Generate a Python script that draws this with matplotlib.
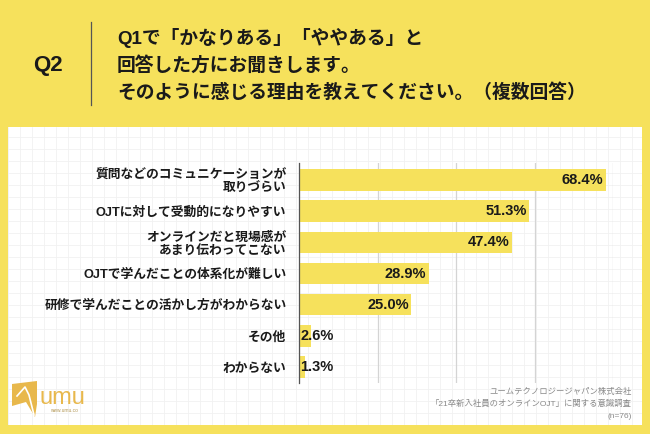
import matplotlib
matplotlib.use("Agg")
import matplotlib.pyplot as plt
import numpy as np
from matplotlib.patches import Polygon

plt.rcParams['font.family'] = ['Liberation Sans', 'Noto Sans CJK JP', 'DejaVu Sans']

# data
labels = ['質問などのコミュニケーションが\n取りづらい',
          'OJTに対して受動的になりやすい',
          'オンラインだと現場感が\nあまり伝わってこない',
          'OJTで学んだことの体系化が難しい',
          '研修で学んだことの活かし方がわからない',
          'その他',
          'わからない']
values = [68.4, 51.3, 47.4, 28.9, 25.0, 2.6, 1.3]
x_ticks = [0, 17.5, 35, 52.5, 70]

title_lines = ['Q1で「かなりある」「ややある」と',
               '回答した方にお聞きします。',
               'そのように感じる理由を教えてください。（複数回答）']
source_lines = ['ユームテクノロジージャパン株式会社',
                '「21卒新入社員のオンラインOJT」に関する意識調査',
                '(n=76)']

YELLOW = '#F6E15C'
LOGO = '#E8B84C'
W, H = 650, 434

fig = plt.figure(figsize=(6.5, 4.34), dpi=100)
fig.patch.set_facecolor(YELLOW)


def fx(px):
    return px / W


def fy(py):
    return 1 - py / H


# white panel with faint grid
bg = fig.add_axes([fx(8), fy(425), fx(634), 298 / H])
bg.set_facecolor('white')
bg.set_xlim(0, 634)
bg.set_ylim(0, 298)
bg.set_xticks(np.arange(0, 634, 12))
bg.set_yticks(np.arange(0, 298, 12))
bg.grid(True, color='#f1f1f1', lw=0.6)
bg.tick_params(length=0, labelbottom=False, labelleft=False)
for s in bg.spines.values():
    s.set_visible(False)

# header
fig.text(fx(48), fy(65), 'Q2', fontsize=16, fontweight='bold',
         ha='center', va='center', color='#1a1a1a')
fig.add_artist(plt.Line2D([fx(91), fx(91)], [fy(22), fy(105)],
                          color='#555555', lw=0.9))
for i, line in enumerate(title_lines):
    fig.text(fx(117), fy(38 + i * 27.5), line, fontsize=13.5, fontweight='bold',
             ha='left', va='center', color='#1a1a1a')

# main chart
ax = fig.add_axes([fx(299), fy(383), fx(314), 220 / H])
ax.patch.set_alpha(0)
y = np.arange(len(values))
ax.barh(y, values, height=0.69, color=YELLOW, zorder=2)
ax.set_xlim(0, 70)
ax.set_ylim(6.51, -0.545)
ax.set_xticks(x_ticks)
ax.grid(True, axis='x', color='#d4d4d4', lw=0.9, zorder=0)
ax.set_axisbelow(True)
ax.tick_params(length=0, labelbottom=False)
ax.set_yticks(y)
ax.set_yticklabels(labels, fontsize=9.2, fontweight='bold', color='#1a1a1a',
                   linespacing=1.1, ha='right')
ax.tick_params(axis='y', pad=9)
for s in ['top', 'right', 'bottom']:
    ax.spines[s].set_visible(False)
ax.spines['left'].set_color('#555555')
ax.spines['left'].set_linewidth(0.9)
ax.spines['left'].set_zorder(3)

for yi, v in zip(y, values):
    txt = f'{v:.1f}%'
    if v > 10:
        ax.text(v - 0.5, yi, txt, ha='right', va='center', fontsize=10.5,
                fontweight='bold', color='#1a1a1a', zorder=4)
    else:
        ax.text(0.3, yi, txt, ha='left', va='center', fontsize=10.5,
                fontweight='bold', color='#1a1a1a', zorder=4)

# source
for i, line in enumerate(source_lines):
    fig.text(fx(632), fy(392 + i * 12), line, fontsize=6, ha='right',
             va='center', color='#8a8a8a')

# logo
flag = Polygon([(fx(12), fy(384)), (fx(37), fy(381)), (fx(37), fy(404)),
                (fx(35), fy(417)), (fx(26), fy(402)), (fx(12), fy(406))],
               closed=True, transform=fig.transFigure, facecolor=LOGO,
               edgecolor='none')
fig.add_artist(flag)
fig.add_artist(plt.Line2D([fx(17), fx(25), fx(29), fx(34)],
                          [fy(396), fy(387), fy(395), fy(415)],
                          color='white', lw=1.2))
fig.text(fx(62), fy(398), 'umu', fontsize=17, ha='center', va='center',
         color=LOGO)
fig.text(fx(64), fy(411), 'www.umu.co', fontsize=3.5, ha='center',
         va='center', color='#b59a5a')

fig.savefig('out.png', dpi=100, facecolor=YELLOW)
